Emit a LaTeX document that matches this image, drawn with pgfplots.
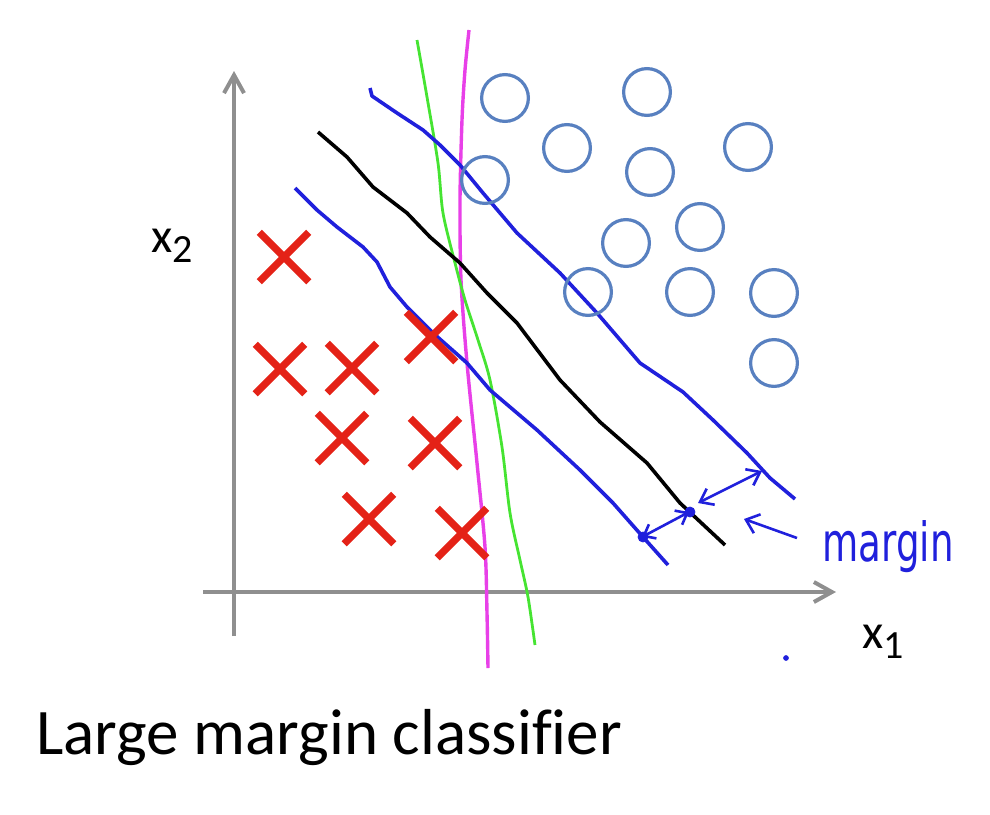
\documentclass[border=0pt]{standalone}
\usepackage{fontspec}
\setmainfont{Carlito}[Ligatures=NoCommon]
\newfontfamily\hand{DejaVu Sans}
\usepackage{pgfplots}
\pgfplotsset{compat=1.18}
\usetikzlibrary{arrows.meta}
\definecolor{axgray}{RGB}{143,143,143}
\definecolor{xred}{RGB}{228,34,23}
\definecolor{oblue}{RGB}{88,128,192}
\definecolor{lblue}{RGB}{32,32,220}
\definecolor{lgreen}{RGB}{70,228,50}
\definecolor{lmag}{RGB}{232,64,232}
\begin{document}
\begin{tikzpicture}
\begin{axis}[width=495pt, height=407pt, scale only axis,
  xmin=0, xmax=990, ymin=0, ymax=814, y dir=reverse,
  hide axis, clip=false]
\addplot[draw=none, forget plot] coordinates {(0,0) (990,814)};
% axes
\addplot[axgray, line width=2pt, -{Straight Barb[length=9pt,width=10pt]}] coordinates {(234,636) (234,71)};
\addplot[axgray, line width=2pt, -{Straight Barb[length=9pt,width=10pt]}] coordinates {(203,592) (836,592)};
% magenta
\addplot[lmag, line width=1.7pt, smooth, line join=round] coordinates {(469,30) (465,70) (462,120) (460,200) (461,280) (467,363) (477,463) (485,547) (487,613) (488,668)};
% green
\addplot[lgreen, line width=1.4pt, smooth, line join=round] coordinates {(417,40) (427,97) (438,163) (443,213) (455,263) (465,300) (478,340) (490,380) (502,447) (510,513) (520,560) (528,597) (535,645)};
% black
\addplot[black, line width=1.8pt, line join=round] coordinates {(318,132) (347,157) (373,187) (407,213) (430,237) (460,263) (487,293) (517,323) (560,380) (600,422) (647,463) (680,503) (725,545)};
% upper blue
\addplot[lblue, line width=1.8pt, line join=round] coordinates {(370,88) (372,96) (397,113) (423,130) (440,145) (460,165) (483,193) (517,233) (560,273) (597,313) (640,363) (683,392) (713,420) (747,453) (770,478) (795,499)};
% lower blue
\addplot[lblue, line width=1.8pt, line join=round] coordinates {(295,188) (317,210) (337,227) (363,247) (377,262) (390,287) (407,307) (433,333) (467,363) (490,390) (537,430) (580,470) (613,503) (643,537) (668,565)};
% margin arrows
\addplot[lblue, line width=1.3pt, {Straight Barb[length=5pt,width=8pt]}-{Straight Barb[length=5pt,width=8pt]}] coordinates {(642,537) (689,512)};
\addplot[lblue, line width=1.3pt, {Straight Barb[length=6pt,width=9pt]}-{Straight Barb[length=6pt,width=9pt]}] coordinates {(698,503) (762,471)};
\addplot[lblue, line width=1.3pt, -{Straight Barb[length=6pt,width=10pt]}] coordinates {(797,538) (744,519)};
\addplot[lblue, only marks, mark=*, mark size=2.5pt] coordinates {(690,512) (643,537)};
\addplot[lblue, only marks, mark=*, mark size=1.2pt] coordinates {(786,658)};
% red crosses
\addplot[xred, only marks, mark=x, mark size=17.5pt, mark options={line width=3.7pt}] coordinates {
(284,257) (280,369) (352,368) (431,337) (342,438) (435,443) (369,519) (462,533)};
% blue circles
\addplot[oblue, only marks, mark=o, mark size=11.7pt, mark options={line width=1.6pt}] coordinates {
(505,98) (647,92) (567,148) (748,147) (485,180) (650,172) (700,227) (626,243) (588,292) (690,292) (774,293) (774,363)};
% labels
\node[anchor=base west, inner sep=0] at (151,252) {\fontsize{24.5}{26}\selectfont x\raisebox{-5pt}{\fontsize{20}{22}\selectfont 2}};
\node[anchor=base west, inner sep=0] at (862,648) {\fontsize{24.5}{26}\selectfont x\raisebox{-5pt}{\fontsize{20}{22}\selectfont 1}};
\node[anchor=base west, inner sep=0] at (36,754) {\fontsize{32.5}{36}\selectfont Large margin classifier};
\node[anchor=base west, inner sep=0, text=lblue] at (822,561) {\scalebox{1}[1.45]{\hand\fontsize{18.6}{20}\selectfont margin}};
\end{axis}
\end{tikzpicture}
\end{document}
